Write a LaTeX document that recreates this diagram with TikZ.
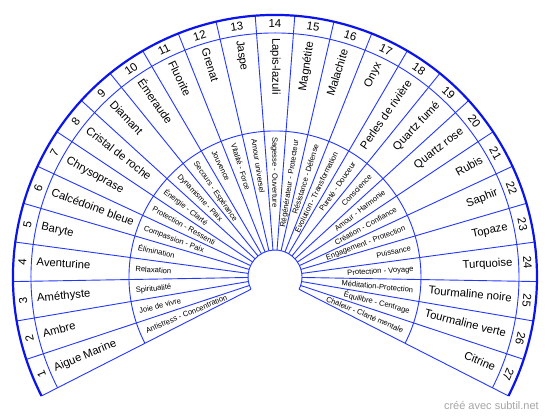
\documentclass[tikz,border=0pt]{standalone}
\usepackage{fontspec}
\setmainfont{Liberation Sans}
\definecolor{lineblue}{RGB}{35,55,255}
\definecolor{outerblue}{RGB}{10,20,235}
\definecolor{footgray}{RGB}{165,165,165}
\begin{document}
\begin{tikzpicture}[
  sector/.style={draw=lineblue, line width=0.9pt},
  rim/.style={draw=outerblue, line width=2.2pt},
  stone/.style={font=\fontsize{11.3}{13}\selectfont, inner sep=0pt},
  prop/.style={font=\fontsize{7.6}{9}\selectfont, inner sep=0pt},
  numlab/.style={font=\fontsize{11.5}{13}\selectfont, inner sep=0pt},
  foot/.style={font=\fontsize{11}{13}\selectfont, text=footgray, inner sep=0pt},
]
\useasboundingbox[fill=white] (-275pt,-141pt) rectangle (275pt,277pt);
\coordinate (O) at (0pt,0pt);
% rings
\draw[sector] (207:27pt) arc[start angle=207, end angle=-27, radius=27pt];
\draw[sector] (207:146pt) arc[start angle=207, end angle=-27, radius=146pt];
\draw[sector] (207:244pt) arc[start angle=207, end angle=-27, radius=244pt];
% radial separators
\foreach \k in {0,...,27}{
  \pgfmathsetmacro\a{207-\k*234/27}
  \draw[sector] (\a:27pt) -- (\a:262pt);
}
\draw[rim] (207:262pt) arc[start angle=207, end angle=-27, radius=262pt];
% labels
\foreach \i/\nm/\pr in {
  1/Aigue Marine/Antistress - Concentration,
  2/Ambre/Joie de vivre,
  3/Améthyste/Spiritualité,
  4/Aventurine/Relaxation,
  5/Baryte/Élimination,
  6/Calcédoine bleue/Compassion - Paix,
  7/Chrysoprase/Protection - Ressenti,
  8/Cristal de roche/Énergie - Clarté,
  9/Diamant/Dynamisme - Paix,
  10/Émeraude/Secours - Espérance,
  11/Fluorite/Jouvence,
  12/Grenat/Vitalité - Force,
  13/Jaspe/Amour universel,
  14/Lapis-lazuli/Sagesse - Ouverture,
  15/Magnétite/Régénérateur - Protecteur,
  16/Malachite/Résistance - Défense,
  17/Onyx/Évolution - Transformation,
  18/Perles de rivière/Pureté - Douceur,
  19/Quartz fumé/Conscience,
  20/Quartz rose/Amour - Harmonie,
  21/Rubis/Création - Confiance,
  22/Saphir/Engagement - Protection,
  23/Topaze/Puissance,
  24/Turquoise/Protection - Voyage,
  25/Tourmaline noire/Méditation-Protection,
  26/Tourmaline verte/Équilibre - Centrage,
  27/Citrine/Chaleur - Clarté mentale}{
  \pgfmathsetmacro\a{207-(\i-0.5)*234/27}
  \node[numlab, rotate=\a-90] (num\i) at (\a:253pt) {\i};
  \ifnum\i<15
    \node[stone, anchor=mid west, rotate=\a-180] (st\i) at (\a:239pt) {\nm};
    \node[prop, anchor=mid west, rotate=\a-180] (pr\i) at (\a:140pt) {\pr};
  \else
    \node[stone, anchor=mid east, rotate=\a] (st\i) at (\a:238pt) {\nm};
    \node[prop, anchor=mid east, rotate=\a] (pr\i) at (\a:139pt) {\pr};
  \fi
}
\node[foot, anchor=mid east] (credit) at (264pt,-130pt) {créé avec subtil.net};
\end{tikzpicture}
\end{document}
